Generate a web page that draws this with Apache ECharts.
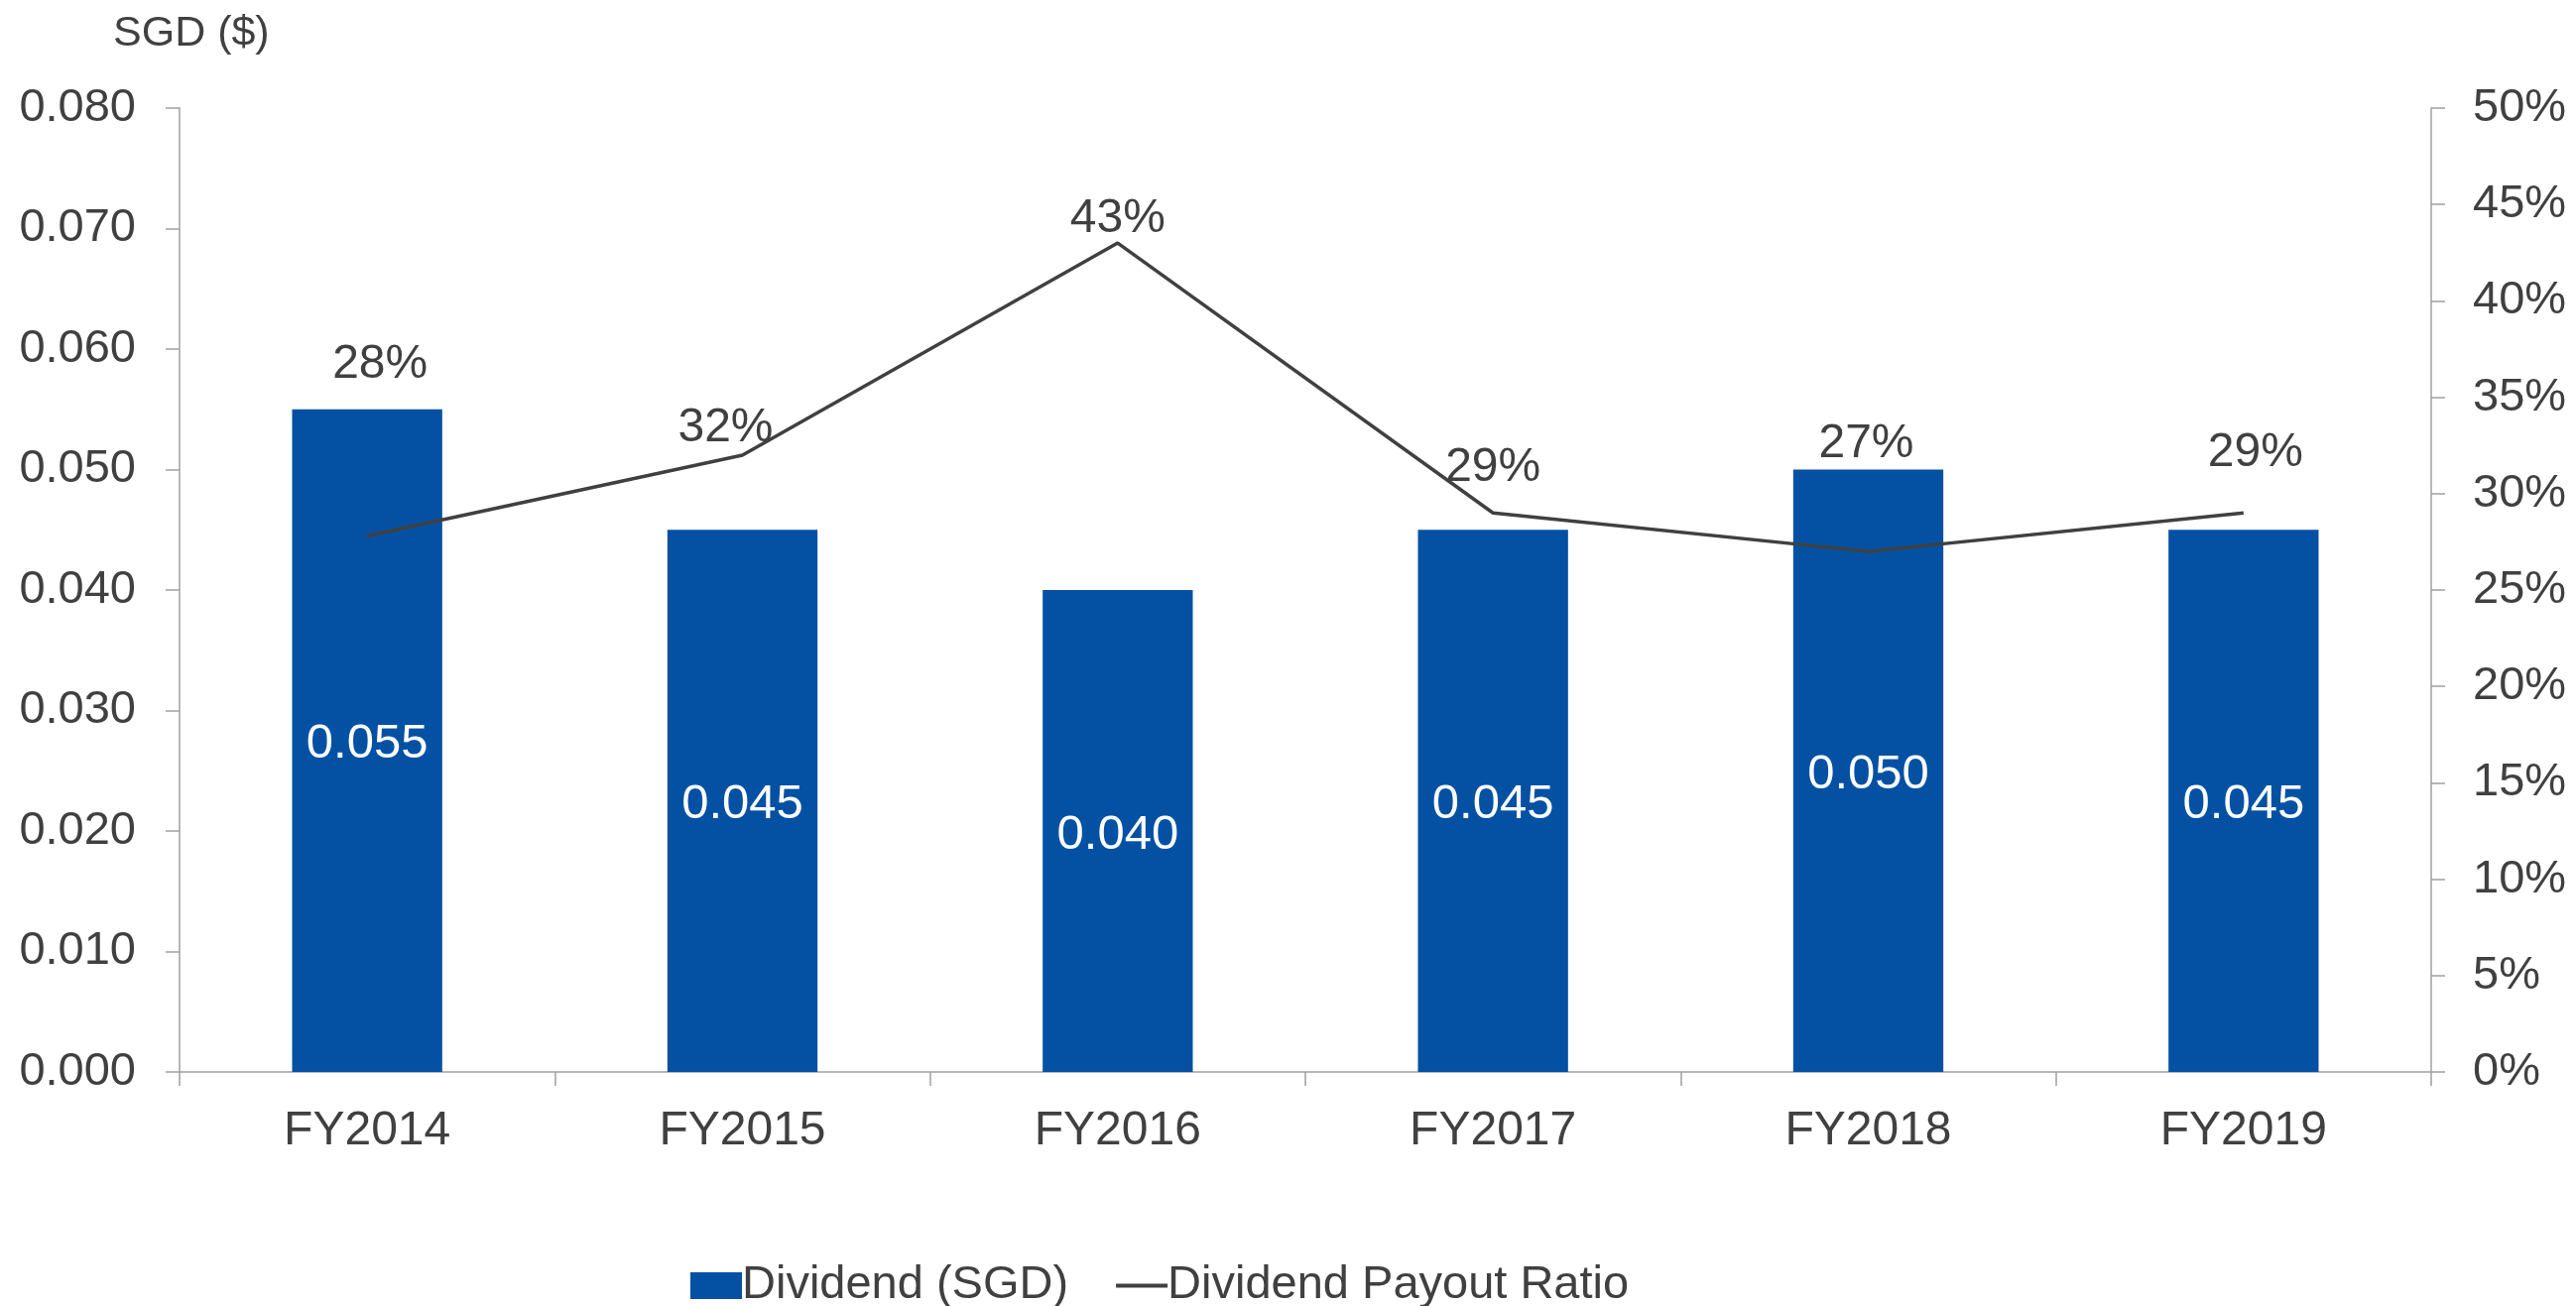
<!DOCTYPE html>
<html>
<head>
<meta charset="utf-8">
<script src="https://cdn.jsdelivr.net/npm/echarts@6/dist/echarts.min.js"></script>
<style>
html,body{margin:0;padding:0;background:#fff;}
#chart{width:2597px;height:1317px;}
</style>
</head>
<body>
<div id="chart"></div>
<script>
const categories = ['FY2014', 'FY2015', 'FY2016', 'FY2017', 'FY2018', 'FY2019'];
const dividendSGD = [0.055, 0.045, 0.040, 0.045, 0.050, 0.045];
const payoutRatio = [27.8, 32, 43, 29, 27, 29];
const leftTicks = ['0.000','0.010','0.020','0.030','0.040','0.050','0.060','0.070','0.080'];
const rightTicks = ['0%','5%','10%','15%','20%','25%','30%','35%','40%','45%','50%'];

const FONT = "'Liberation Sans', Arial, sans-serif";
const TXT = '#404040';
const AXIS = '#a0a0a0';

const chart = echarts.init(document.getElementById('chart'), null, {renderer: 'canvas'});

const lineLabelShift = {0: [13, -173], 1: [-17, -27], 2: [0, -24], 3: [0, -45], 4: [-2, -108], 5: [12, -60]};

const option = {
  backgroundColor: '#ffffff',
  animation: false,
  textStyle: {fontFamily: FONT, color: TXT},
  grid: {left: 181, right: 146, top: 109, bottom: 236, containLabel: false},
  graphic: [{
    type: 'text', left: 191 - 77, top: 13,
    style: {text: 'SGD ($)', font: "43px 'Liberation Sans', Arial, sans-serif", fill: TXT}
  }],
  legend: {
    left: 691, top: 1268,
    itemWidth: 52, itemHeight: 27, itemGap: 46,
    textStyle: {fontFamily: FONT, fontSize: 47, color: TXT, padding: [0, 0, 0, -5]},
    lineStyle: {width: 4},
    data: [
      {name: 'Dividend (SGD)', icon: 'rect'},
      {name: 'Dividend Payout Ratio', itemStyle: {opacity: 0}}
    ]
  },
  xAxis: {
    type: 'category',
    data: categories,
    boundaryGap: true,
    axisLine: {show: true, lineStyle: {color: AXIS, width: 1.5}},
    axisTick: {show: true, length: 14, alignWithLabel: false, lineStyle: {color: AXIS, width: 1.5}},
    axisLabel: {fontFamily: FONT, fontSize: 48, color: TXT, margin: 36},
    splitLine: {show: false}
  },
  yAxis: [
    {
      type: 'value', min: 0, max: 0.08, interval: 0.01, position: 'left',
      axisLine: {show: true, lineStyle: {color: AXIS, width: 1.5}},
      axisTick: {show: true, length: 14, lineStyle: {color: AXIS, width: 1.5}},
      axisLabel: {fontFamily: FONT, fontSize: 47, color: TXT, margin: 44,
        formatter: (v) => leftTicks[Math.round(v / 0.01)]},
      splitLine: {show: false}
    },
    {
      type: 'value', min: 0, max: 50, interval: 5, position: 'right',
      axisLine: {show: true, lineStyle: {color: AXIS, width: 1.5}},
      axisTick: {show: true, length: 14, lineStyle: {color: AXIS, width: 1.5}},
      axisLabel: {fontFamily: FONT, fontSize: 47, color: TXT, margin: 42,
        formatter: (v) => rightTicks[Math.round(v / 5)]},
      splitLine: {show: false}
    }
  ],
  series: [
    {
      name: 'Dividend (SGD)',
      type: 'bar',
      yAxisIndex: 0,
      barWidth: '40%',
      data: dividendSGD,
      itemStyle: {color: '#0451a4'},
      label: {
        show: true, position: 'inside', color: '#ffffff',
        fontFamily: FONT, fontSize: 49, offset: [0, 4],
        formatter: (p) => p.value.toFixed(3)
      }
    },
    {
      name: 'Dividend Payout Ratio',
      type: 'line',
      yAxisIndex: 1,
      data: payoutRatio.map((v, i) => ({value: v, label: {offset: lineLabelShift[i]}})),
      symbol: 'circle',
      symbolSize: 0,
      showSymbol: true,
      itemStyle: {color: '#404040'},
      lineStyle: {color: '#404040', width: 3.5},
      label: {
        show: true, position: 'inside', color: TXT,
        fontFamily: FONT, fontSize: 48,
        formatter: (p) => Math.round(p.value) + '%'
      },
      z: 3
    }
  ]
};
chart.setOption(option);
</script>
</body>
</html>
